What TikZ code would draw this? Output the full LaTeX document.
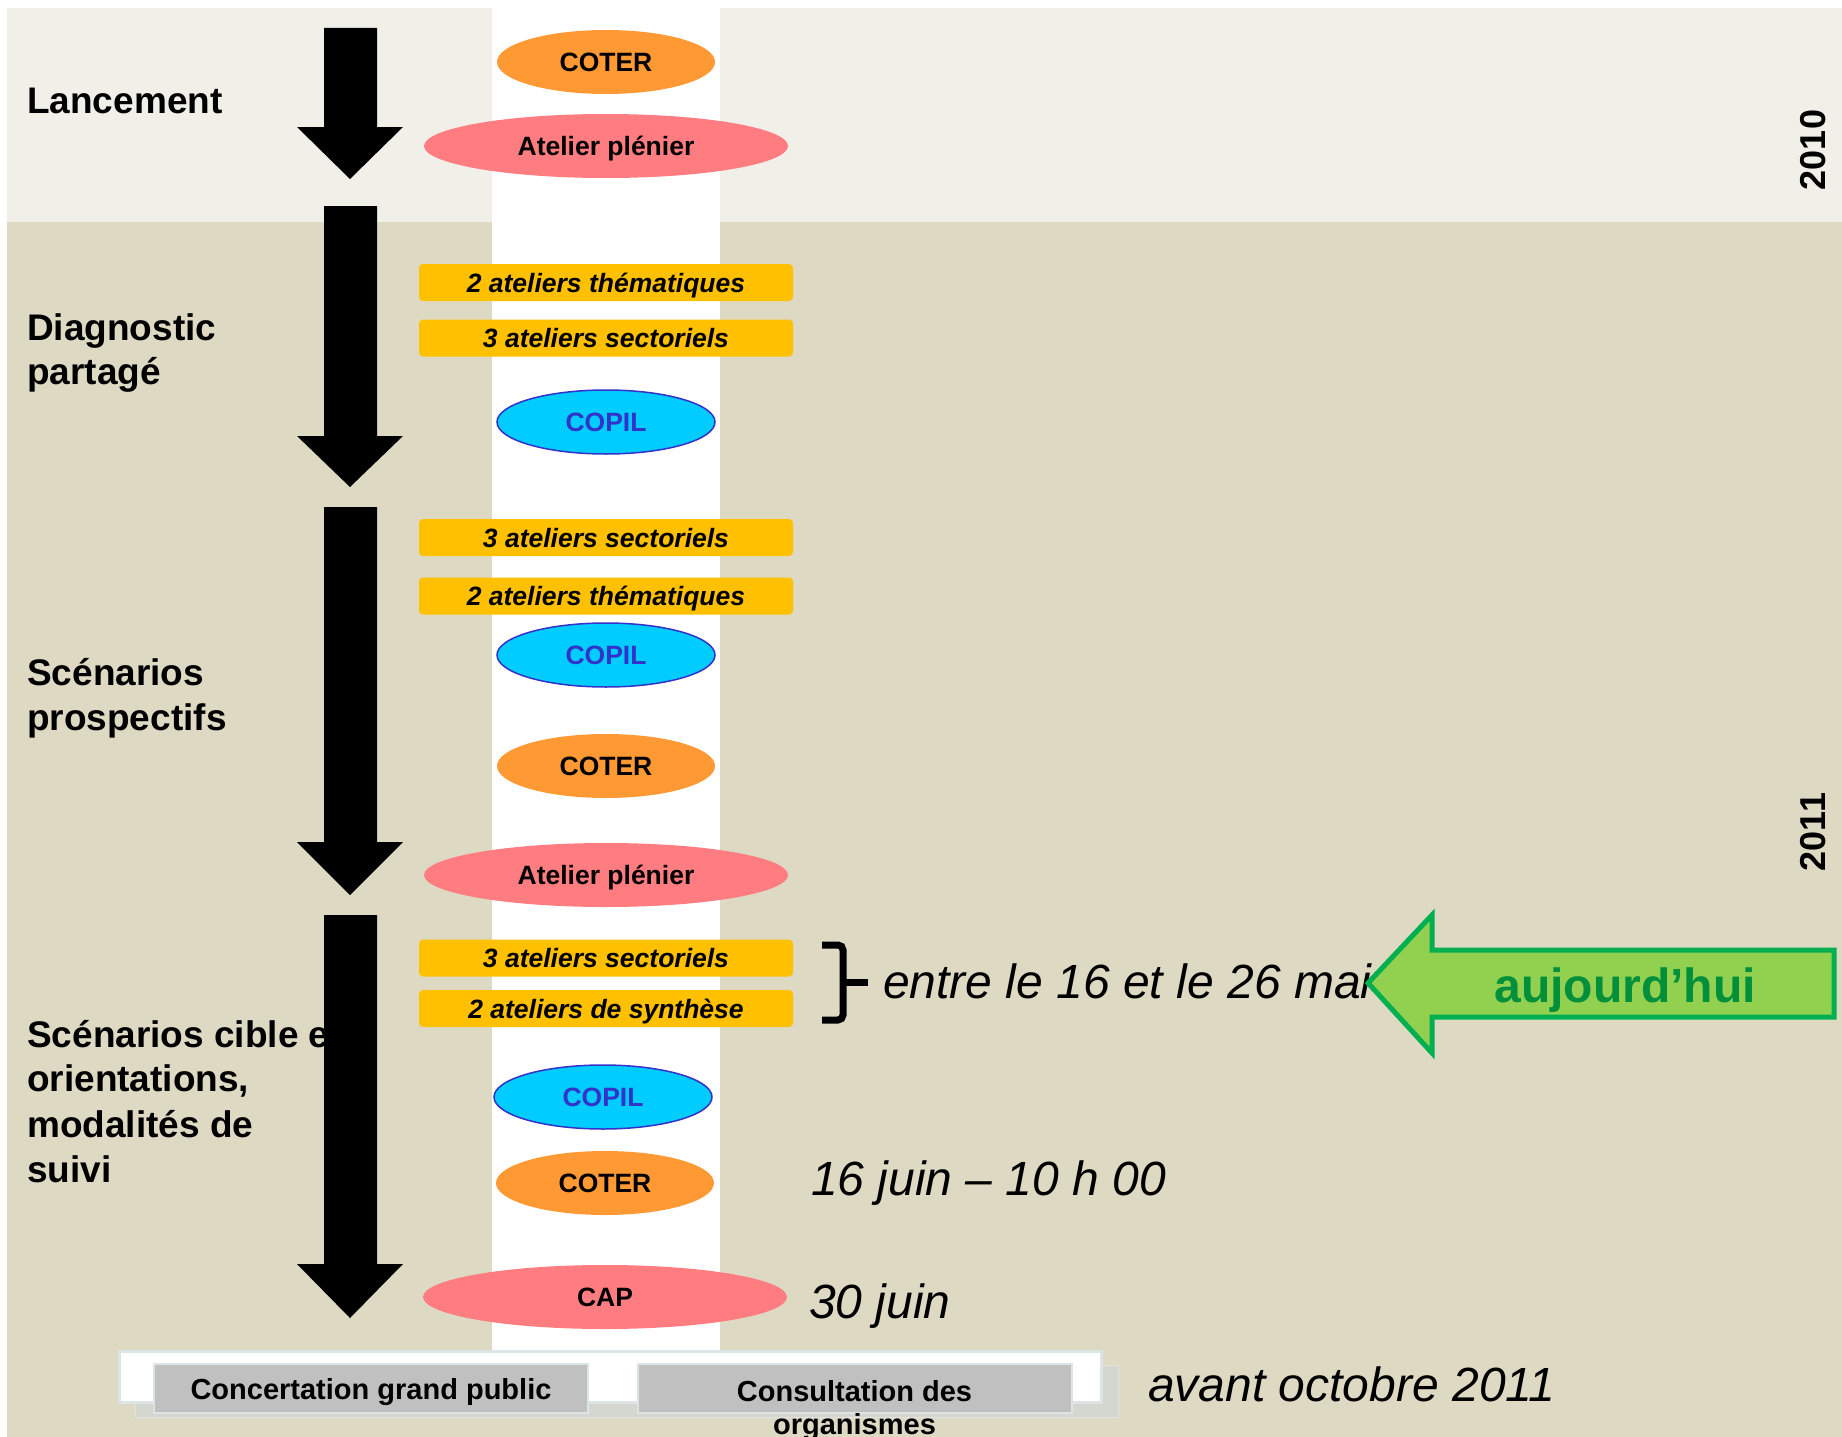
\documentclass[tikz,border=0pt]{standalone}
\usepackage{fontspec}
\setmainfont{Liberation Sans}
\usetikzlibrary{shapes.geometric}
\definecolor{topband}{HTML}{F1F0E8}
\definecolor{lowband}{HTML}{DDD9C3}
\definecolor{coterc}{HTML}{FF9933}
\definecolor{pinkc}{HTML}{FF7C80}
\definecolor{yellowc}{HTML}{FFC000}
\definecolor{cyanc}{HTML}{00CCFF}
\definecolor{copilc}{HTML}{3333CC}
\definecolor{greenfill}{HTML}{92D050}
\definecolor{greenline}{HTML}{00B050}
\definecolor{greentext}{HTML}{00903C}
\definecolor{greybox}{HTML}{C0C0C0}
\definecolor{greyedge}{HTML}{DCE4E6}
\definecolor{shadowc}{HTML}{D3D7D0}
\newcommand\blkarrow[3]{\fill[black] (324,#1) -- (377,#1) -- (377,#2) -- (403,#2) -- (350,#3) -- (297,#2) -- (324,#2) -- cycle;}
\begin{document}
\begin{tikzpicture}[x=1pt,y=-1pt,
  ell/.style={ellipse, inner sep=0pt, text height=19pt, text depth=0pt, font=\fontsize{26.5}{30}\selectfont\bfseries},
  coterell/.style={ell, fill=coterc, minimum width=218pt, minimum height=64pt},
  pinkell/.style={ell, fill=pinkc, minimum width=364pt, minimum height=64pt},
  copilell/.style={ell, fill=cyanc, draw=copilc, line width=1.5pt, text=copilc, minimum width=218pt, minimum height=64pt},
  atelier/.style={rectangle, rounded corners=4pt, fill=yellowc, inner sep=0pt, text height=19pt, text depth=0pt, minimum width=374pt, minimum height=37pt, font=\fontsize{26.5}{30}\selectfont\bfseries\itshape},
  phase/.style={anchor=base west, inner sep=0pt, font=\fontsize{37}{45}\selectfont\bfseries},
  datelbl/.style={anchor=base west, inner sep=0pt, font=\fontsize{48}{56}\selectfont\itshape},
  yearlbl/.style={rotate=90, inner sep=0pt, font=\fontsize{36}{40}\selectfont\bfseries},
  greyrect/.style={rectangle, fill=greybox, draw=greyedge, line width=2pt, inner sep=0pt, text height=21pt, text depth=0pt, minimum width=434pt, minimum height=49pt, font=\fontsize{29}{33}\selectfont\bfseries},
  bracestyle/.style={line width=7pt, rounded corners=5pt}
]
\useasboundingbox (0,0) rectangle (1842,1437);
% backgrounds
\fill[white] (0,0) rectangle (1842,1437);
\fill[topband] (7,8) rectangle (1842,222);
\fill[lowband] (7,222) rectangle (1842,1437);
\fill[white] (492,8) rectangle (720,1350);

% phase labels
\node[phase] (lanc) at (27,113) {Lancement};
\node[phase] (diag1) at (27,340) {Diagnostic};
\node[phase] (diag2) at (27,384) {partagé};
\node[phase] (scen1) at (27,685) {Scénarios};
\node[phase] (scen2) at (27,730) {prospectifs};
\node[phase] (cib1) at (27,1047) {Scénarios cible et};
\node[phase] (cib2) at (27,1091) {orientations,};
\node[phase] (cib3) at (27,1137) {modalités de};
\node[phase] (cib4) at (27,1182) {suivi};

% black arrows
\blkarrow{28}{127}{179}
\blkarrow{206}{436}{487}
\blkarrow{507}{842}{895}
\blkarrow{915}{1264}{1318}

% events
\node[coterell] (coter1) at (606,62) {COTER};
\node[pinkell] (ap1) at (606,146) {Atelier plénier};
\node[atelier] (th1) at (606,282.5) {2 ateliers thématiques};
\node[atelier] (se1) at (606,338) {3 ateliers sectoriels};
\node[copilell] (copil1) at (606,422) {COPIL};
\node[atelier] (se2) at (606,537.5) {3 ateliers sectoriels};
\node[atelier] (th2) at (606,596) {2 ateliers thématiques};
\node[copilell] (copil2) at (606,655) {COPIL};
\node[coterell] (coter2) at (606,766) {COTER};
\node[pinkell] (ap2) at (606,875) {Atelier plénier};
\node[atelier] (se3) at (606,958) {3 ateliers sectoriels};
\node[atelier] (sy3) at (606,1008.5) {2 ateliers de synthèse};
\node[copilell] (copil3) at (603,1097) {COPIL};
\node[coterell] (coter3) at (605,1183) {COTER};
\node[pinkell] (cap) at (605,1297) {CAP};

% brace
\draw[bracestyle] (822,945) -- (843,945) -- (843,1020) -- (822,1020);
\draw[line width=7pt] (843,982) -- (868,982);

% dates
\node[datelbl] (mai) at (883,998) {entre le 16 et le 26 mai};
\node[datelbl] (juin16) at (811,1195) {16 juin – 10 h 00};
\node[datelbl] (juin30) at (809,1318) {30 juin};
\node[datelbl] (oct) at (1148,1401) {avant octobre 2011};

% green arrow
\filldraw[fill=greenfill, draw=greenline, line width=5pt] (1368,983) -- (1432,915) -- (1432,950) -- (1834,950) -- (1834,1017) -- (1432,1017) -- (1432,1053) -- cycle;
\node[anchor=base, inner sep=0pt, text=greentext, font=\fontsize{48}{56}\selectfont\bfseries] (today) at (1625,1002) {aujourd’hui};

% years
\node[yearlbl] (y2010) at (1813,150) {2010};
\node[yearlbl] (y2011) at (1813,832) {2011};

% bottom boxes
\draw[fill=shadowc, draw=shadowc!70!white, line width=1pt] (135,1365) rectangle (1118,1417);
\draw[fill=white, draw=greyedge, line width=3pt] (119,1351) rectangle (1101,1402);
\node[greyrect] (concert) at (371,1388.5) {Concertation grand public};
\node[greyrect] (consult) at (854.5,1388.5) {};
\node[anchor=north, inner sep=0pt, align=center, font=\fontsize{29}{33}\selectfont\bfseries] (consulttxt) at (854.5,1380) {Consultation des\\organismes};
\end{tikzpicture}
\end{document}
